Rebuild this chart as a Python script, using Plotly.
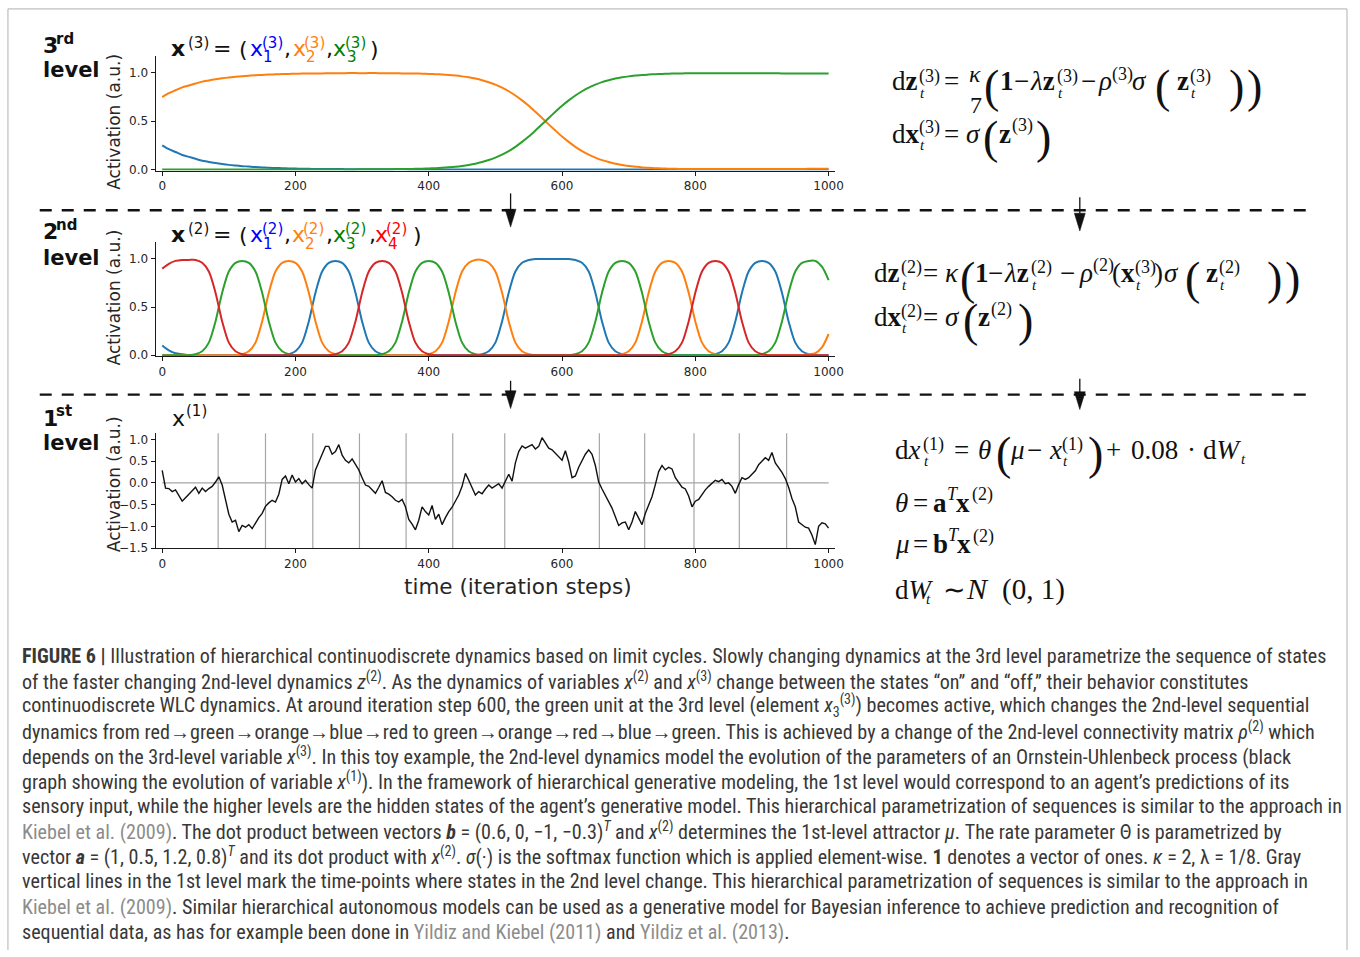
import plotly.graph_objects as go

W, H = 1360, 957


def X(px):
    return px / W


def Y(py):
    return 1 - py / H


# ---------------------------------------------------------------- data
steps_coarse = list(range(0, 1001, 10))
steps_fine = list(range(0, 1001, 5))

level3_blue = [
    0.25, 0.21, 0.18, 0.15, 0.13, 0.11, 0.09, 0.078, 0.066, 0.056,
    0.047, 0.04, 0.034, 0.029, 0.024, 0.021, 0.017, 0.015, 0.012, 0.01,
    0.009, 0.007, 0.006, 0.005, 0.005, 0.004, 0.003, 0.003, 0.002, 0.002,
    0.002, 0.001, 0.001, 0.001, 0.001, 0.001, 0.001, 0, 0, 0,
    0, 0, 0, 0, 0, 0, 0, 0, 0, 0,
    0, 0, 0, 0, 0, 0, 0, 0, 0, 0,
    0, 0, 0, 0, 0, 0, 0, 0, 0, 0,
    0, 0, 0, 0, 0, 0, 0, 0, 0, 0,
    0, 0, 0, 0, 0, 0, 0, 0, 0, 0,
    0, 0, 0, 0, 0, 0, 0, 0, 0, 0,
    0]
level3_orange = [
    0.75, 0.79, 0.82, 0.85, 0.87, 0.89, 0.91, 0.922, 0.934, 0.944,
    0.953, 0.96, 0.966, 0.971, 0.976, 0.979, 0.983, 0.985, 0.988, 0.99,
    0.991, 0.993, 0.994, 0.995, 0.995, 0.996, 0.997, 0.997, 0.998, 0.998,
    0.997, 0.998, 0.998, 0.997, 0.997, 0.996, 0.995, 0.995, 0.994, 0.992,
    0.990, 0.987, 0.983, 0.978, 0.972, 0.964, 0.954, 0.941, 0.924, 0.903,
    0.878, 0.847, 0.81, 0.766, 0.715, 0.659, 0.597, 0.533, 0.467, 0.403,
    0.341, 0.285, 0.234, 0.19, 0.153, 0.122, 0.096, 0.076, 0.059, 0.046,
    0.036, 0.028, 0.021, 0.017, 0.013, 0.01, 0.008, 0.006, 0.005, 0.004,
    0.004, 0.003, 0.003, 0.003, 0.003, 0.003, 0.003, 0.003, 0.003, 0.003,
    0.004, 0.004, 0.004, 0.005, 0.005, 0.005, 0.005, 0.006, 0.006, 0.006,
    0.007]
level3_green = [
    0, 0, 0, 0, 0, 0, 0, 0, 0, 0,
    0, 0, 0, 0, 0, 0, 0, 0, 0, 0,
    0, 0, 0, 0, 0, 0, 0, 0, 0, 0,
    0.001, 0.001, 0.001, 0.002, 0.002, 0.003, 0.004, 0.005, 0.006, 0.008,
    0.010, 0.013, 0.017, 0.022, 0.028, 0.036, 0.046, 0.059, 0.076, 0.097,
    0.122, 0.153, 0.19, 0.234, 0.285, 0.341, 0.403, 0.467, 0.533, 0.597,
    0.659, 0.715, 0.766, 0.81, 0.847, 0.878, 0.904, 0.924, 0.941, 0.954,
    0.964, 0.972, 0.979, 0.983, 0.987, 0.99, 0.992, 0.994, 0.995, 0.996,
    0.996, 0.997, 0.997, 0.997, 0.997, 0.997, 0.997, 0.997, 0.997, 0.997,
    0.996, 0.996, 0.996, 0.995, 0.995, 0.995, 0.995, 0.994, 0.994, 0.994,
    0.993]

level2_blue = [
    0.10, 0.05, 0.02, 0.01, 0, 0, 0, 0, 0, 0,
    0, 0, 0, 0, 0, 0, 0, 0, 0, 0.01,
    0.04, 0.13, 0.35, 0.65, 0.87, 0.96, 0.98, 0.96, 0.87, 0.65,
    0.35, 0.13, 0.04, 0.01, 0, 0, 0, 0, 0, 0,
    0, 0, 0, 0, 0, 0, 0, 0, 0.01, 0.04,
    0.13, 0.35, 0.65, 0.87, 0.96, 0.99, 1.0, 1.0, 1.0, 1.0,
    1.0, 1.0, 0.99, 0.96, 0.87, 0.65, 0.35, 0.13, 0.04, 0.01,
    0, 0, 0, 0, 0, 0, 0, 0, 0, 0,
    0, 0, 0, 0.01, 0.04, 0.13, 0.35, 0.65, 0.87, 0.96,
    0.98, 0.96, 0.87, 0.65, 0.35, 0.13, 0.04, 0.01, 0, 0,
    0]
level2_orange = [
    0, 0, 0, 0, 0, 0, 0, 0, 0, 0,
    0, 0, 0.01, 0.04, 0.13, 0.35, 0.65, 0.87, 0.96, 0.98,
    0.96, 0.87, 0.65, 0.35, 0.13, 0.04, 0.01, 0, 0, 0,
    0, 0, 0, 0, 0, 0, 0, 0, 0, 0,
    0.01, 0.04, 0.13, 0.35, 0.65, 0.87, 0.96, 0.99, 0.99, 0.96,
    0.87, 0.65, 0.35, 0.13, 0.04, 0.01, 0, 0, 0, 0,
    0, 0, 0, 0, 0, 0, 0, 0, 0, 0.01,
    0.04, 0.13, 0.35, 0.65, 0.87, 0.96, 0.98, 0.96, 0.87, 0.65,
    0.35, 0.13, 0.04, 0.01, 0, 0, 0, 0, 0, 0,
    0, 0, 0, 0, 0, 0, 0, 0.01, 0.02, 0.08,
    0.22]
level2_green = [
    0, 0, 0, 0, 0, 0.01, 0.04, 0.13, 0.35, 0.65,
    0.87, 0.96, 0.98, 0.96, 0.87, 0.65, 0.35, 0.13, 0.04, 0.01,
    0, 0, 0, 0, 0, 0, 0, 0, 0, 0,
    0, 0, 0, 0.01, 0.04, 0.13, 0.35, 0.65, 0.87, 0.96,
    0.98, 0.96, 0.87, 0.65, 0.35, 0.13, 0.04, 0.01, 0, 0,
    0, 0, 0, 0, 0, 0, 0, 0, 0, 0,
    0, 0, 0.01, 0.04, 0.13, 0.35, 0.65, 0.87, 0.96, 0.98,
    0.96, 0.87, 0.65, 0.35, 0.13, 0.04, 0.01, 0, 0, 0,
    0, 0, 0, 0, 0, 0, 0, 0, 0, 0,
    0.01, 0.04, 0.13, 0.35, 0.65, 0.87, 0.96, 0.98, 0.98, 0.92,
    0.78]
level2_red = [
    0.90, 0.95, 0.98, 0.99, 0.99, 0.99, 0.96, 0.87, 0.65, 0.35,
    0.13, 0.04, 0.01, 0, 0, 0, 0, 0, 0, 0,
    0, 0, 0, 0, 0, 0, 0.01, 0.04, 0.13, 0.35,
    0.65, 0.87, 0.96, 0.98, 0.96, 0.87, 0.65, 0.35, 0.13, 0.04,
    0.01, 0, 0, 0, 0, 0, 0, 0, 0, 0,
    0, 0, 0, 0, 0, 0, 0, 0, 0, 0,
    0, 0, 0, 0, 0, 0, 0, 0, 0, 0,
    0, 0, 0, 0, 0, 0, 0.01, 0.04, 0.13, 0.35,
    0.65, 0.87, 0.96, 0.98, 0.96, 0.87, 0.65, 0.35, 0.13, 0.04,
    0.01, 0, 0, 0, 0, 0, 0, 0, 0, 0,
    0]

level1_x = [
    0.29, -0.12, -0.13, -0.20, -0.16, -0.30, -0.42, -0.34, -0.25, -0.18,
    -0.10, -0.24, -0.12, -0.20, -0.13, -0.08, 0.02, 0.14, -0.05, -0.42,
    -0.72, -0.90, -0.86, -1.12, -0.98, -1.02, -0.96, -1.05, -0.92, -0.80,
    -0.70, -0.54, -0.46, -0.40, -0.44, -0.26, 0.08, 0.16, -0.02, 0.18,
    0.02, 0.10, -0.02, 0.06, -0.04, -0.12, 0.30, 0.46, 0.66, 0.84,
    0.84, 0.66, 0.72, 0.88, 0.64, 0.52, 0.46, 0.55, 0.42, 0.30,
    0.12, -0.05, -0.08, -0.15, -0.24, -0.10, 0.05, -0.22, -0.26, -0.32,
    -0.40, -0.44, -0.38, -0.55, -0.84, -0.95, -1.08, -0.86, -0.55, -0.66,
    -0.74, -0.52, -0.84, -0.72, -0.96, -0.80, -0.66, -0.56, -0.42, -0.28,
    -0.08, 0.22, 0.06, -0.10, -0.28, -0.20, -0.25, -0.14, -0.05, -0.12,
    -0.06, -0.02, -0.12, 0.05, 0.20, 0.04, 0.46, 0.72, 0.85, 0.80,
    0.84, 0.88, 0.78, 0.84, 1.04, 0.92, 0.80, 0.76, 0.68, 0.58,
    0.52, 0.74, 0.48, 0.12, 0.16, 0.36, 0.52, 0.66, 0.76, 0.66,
    0.40, 0.02, -0.14, -0.28, -0.44, -0.58, -0.78, -0.98, -0.92, -0.90,
    -1.08, -0.90, -0.66, -0.80, -0.96, -0.70, -0.50, -0.32, -0.04, 0.26,
    0.40, 0.30, 0.36, 0.32, 0.12, 0.02, -0.10, -0.14, -0.30, -0.55,
    -0.42, -0.38, -0.26, -0.16, -0.08, -0.02, 0.06, 0.03, 0.08, -0.02,
    0.0, -0.08, -0.24, -0.04, 0.12, 0.08, 0.12, 0.20, 0.28, 0.42,
    0.50, 0.58, 0.52, 0.70, 0.46, 0.36, 0.24, 0.10, -0.10, -0.36,
    -0.55, -0.90, -0.96, -1.02, -1.04, -1.20, -1.42, -1.00, -0.92, -0.94,
    -1.04]

state_change_steps = [84, 155, 226, 296, 366, 436, 514, 656, 724, 798, 866, 937]

x_ticks = [0, 200, 400, 600, 800, 1000]
y_ticks_upper = [0.0, 0.5, 1.0]
y_ticks_lower = [-1.5, -1.0, -0.5, 0.0, 0.5, 1.0]

C_BLUE, C_ORANGE, C_GREEN, C_RED = "#1f77b4", "#ff7f0e", "#2ca02c", "#d62728"

# ---------------------------------------------------------------- figure
fig = go.Figure()

LW = 2.0
for vals, col in [(level3_blue, C_BLUE), (level3_orange, C_ORANGE), (level3_green, C_GREEN)]:
    fig.add_trace(go.Scatter(x=steps_coarse, y=vals, mode="lines", xaxis="x", yaxis="y",
                             line=dict(color=col, width=LW, shape="spline", smoothing=0.8),
                             showlegend=False, hoverinfo="skip"))
for vals, col in [(level2_blue, C_BLUE), (level2_orange, C_ORANGE), (level2_green, C_GREEN),
                  (level2_red, C_RED)]:
    fig.add_trace(go.Scatter(x=steps_coarse, y=vals, mode="lines", xaxis="x2", yaxis="y2",
                             line=dict(color=col, width=LW, shape="spline", smoothing=0.8),
                             showlegend=False, hoverinfo="skip"))
fig.add_trace(go.Scatter(x=steps_fine, y=level1_x, mode="lines", xaxis="x3", yaxis="y3",
                         line=dict(color="#111111", width=1.4),
                         showlegend=False, hoverinfo="skip"))

axis_common = dict(showline=True, linecolor="#1a1a1a", linewidth=1.3, ticks="outside",
                   ticklen=4, tickwidth=1.1, tickcolor="#1a1a1a", showgrid=False,
                   zeroline=False, fixedrange=True,
                   tickfont=dict(family="DejaVu Sans", size=12, color="#262626"))

XDOM = [X(156.7), X(840.5)]
XRANGE = [-9.8, 1009.5]


def fmt(v):
    return f"{v:.1f}".replace("-", "\u2212")


layout_axes = {}
for i, (top, bot, yr, yt) in enumerate([
        (55, 171, [-0.012, 1.18], y_ticks_upper),
        (242.7, 358.3, [-0.012, 1.18], y_ticks_upper),
        (436, 551.7, [-1.5, 1.14], y_ticks_lower)]):
    sfx = "" if i == 0 else str(i + 1)
    layout_axes["xaxis" + sfx] = dict(axis_common, domain=XDOM, range=XRANGE,
                                      anchor="y" + sfx, tickvals=x_ticks,
                                      ticktext=[str(v) for v in x_ticks])
    layout_axes["yaxis" + sfx] = dict(axis_common, domain=[Y(bot), Y(top)], range=yr,
                                      anchor="x" + sfx, tickvals=yt,
                                      ticktext=[fmt(v) for v in yt])

shapes = []
for s in state_change_steps:
    shapes.append(dict(type="line", xref="x3", yref="y3 domain", x0=s, x1=s, y0=0, y1=1,
                       line=dict(color="#a6a6a6", width=1.2), layer="below"))
shapes.append(dict(type="line", xref="x3", yref="y3", x0=0, x1=1000, y0=0, y1=0,
                   line=dict(color="#a6a6a6", width=1.2), layer="below"))

for yy in (211, 397):
    shapes.append(dict(type="line", xref="paper", yref="paper", x0=X(40), x1=X(1318),
                       y0=Y(yy), y1=Y(yy), line=dict(color="#111", width=2.3, dash="12px,10px")))

for ax_, top, tip in [(514, 194, 228), (1087, 198, 232), (514, 383, 411), (1087, 381, 412)]:
    shapes.append(dict(type="line", xref="paper", yref="paper", x0=X(ax_), x1=X(ax_),
                       y0=Y(top), y1=Y(tip - 10), line=dict(color="#111", width=1.3)))
    shapes.append(dict(type="path", xref="paper", yref="paper",
                       path=f"M {X(ax_ - 5.5)},{Y(tip - 18)} L {X(ax_ + 5.5)},{Y(tip - 18)} "
                            f"L {X(ax_)},{Y(tip)} Z",
                       fillcolor="#111", line=dict(color="#111", width=0.5)))

for (x0, y0, x1, y1) in [(8, 8, 8, 957), (8, 8, 1356, 8), (1356, 8, 1356, 957)]:
    shapes.append(dict(type="line", xref="paper", yref="paper", x0=X(x0), x1=X(x1),
                       y0=Y(y0), y1=Y(y1), line=dict(color="#b0b0b0", width=1)))

annotations = []


def txt(x, baseline, text, size, color="#111", family="DejaVu Sans", k=0.34):
    annotations.append(dict(x=X(x), y=Y(baseline - k * size), xref="paper", yref="paper",
                            xanchor="left", yanchor="middle", text=text, showarrow=False,
                            borderpad=0, align="left",
                            font=dict(family=family, size=size, color=color)))


for base1, base2, num, sup in [(52, 77, "3", "rd"), (240, 266, "2", "nd"), (428, 453, "1", "st")]:
    txt(42, base1, f"<b>{num}</b>", 22)
    txt(55, base1 - 9, f"<b>{sup}</b>", 15)
    txt(42, base2, "<b>level</b>", 21)

for yc in (121.5, 298.7, 487):
    annotations.append(dict(x=X(115), y=Y(yc), xref="paper", yref="paper", textangle=-90,
                            xanchor="center", yanchor="middle", text="Activation (a.u.)",
                            showarrow=False, font=dict(family="DejaVu Sans", size=17,
                                                       color="#262626")))
annotations.append(dict(x=X(521.5), y=Y(590), xref="paper", yref="paper", xanchor="center",
                        yanchor="middle", text="time (iteration steps)", showarrow=False,
                        font=dict(family="DejaVu Sans", size=21.5, color="#262626")))


def panel_title(base, lvl, comps):
    txt(171, base, "<b>x</b>", 22)
    txt(188.5, base - 8, f"({lvl})", 15)
    txt(213, base, "=", 22)
    txt(240, base + 1, "(", 22)
    for (x0, col, idx, comma_x) in comps:
        txt(x0, base, "x", 22, col)
        txt(x0 + 12, base - 8, f"({lvl})", 15, col)
        txt(x0 + 13.5, base + 7, idx, 15, col)
        if comma_x is not None:
            txt(comma_x, base, ",", 22)


panel_title(55, 3, [(250.5, "blue", "1", 284.5), (293.5, C_ORANGE, "2", 327),
                    (334.5, "green", "3", None)])
txt(371, 56, ")", 22)
panel_title(243.3, 2, [(250.5, "blue", "1", 284.5), (292.5, C_ORANGE, "2", 327),
                       (334, "green", "3", 370), (376, "red", "4", None)])
txt(415, 244.3, ")", 22)
txt(172, 428, "x", 22)
txt(186, 419, "(1)", 15)

SER = "Liberation Serif"
DX = 4


def eq(base, tokens):
    for x0, dy, text, size in tokens:
        txt(x0 + DX, base + dy, text, size, "#111", SER)


M, S, T_, P = 27, 18, 15, 46
eq(90, [
    (893, 0, "d<b>z</b>", M), (920, -8, "(3)", S), (921, 8, "<i>t</i>", T_),
    (945, 0, "=", M), (970, -8, "<i>κ</i>", 24), (971, 23, "7", 24),
    (986, 12, "(", P), (1002, 0, "<b>1</b>", M), (1016, 0, "−", M),
    (1032, 0, "<i>λ</i><b>z</b>", M), (1059, -8, "(3)", S), (1060, 8, "<i>t</i>", T_),
    (1083, 0, "−", M), (1100, 0, "<i>ρ</i>", M), (1114, -10, "(3)", S),
    (1135, 0, "<i>σ</i>", M), (1158, 12, "(", P), (1180, 0, "<b>z</b>", M),
    (1193, -8, "(3)", S), (1194, 8, "<i>t</i>", T_), (1232, 12, ")", P),
    (1250, 12, ")", P)])
eq(143, [
    (893, 0, "d<b>x</b>", M), (920, -9, "(3)", S), (921, 7, "<i>t</i>", T_),
    (945, 0, "=", M), (967, 0, "<i>σ</i>", M), (985, 10, "(", P),
    (1001, 0, "<b>z</b>", M), (1014, -11, "(3)", S), (1038, 10, ")", P)])
eq(283, [
    (875, 0, "d<b>z</b>", M), (902, -8, "(2)", S), (903, 8, "<i>t</i>", T_),
    (924, 0, "=", M), (946, 0, "<i>κ</i>", M), (961, 12, "(", P),
    (976, 0, "<b>1</b>", M), (990, 0, "−", M), (1006, 0, "<i>λ</i><b>z</b>", M),
    (1033, -8, "(2)", S), (1034, 8, "<i>t</i>", T_), (1062, 0, "−", M),
    (1081, 0, "<i>ρ</i>", M), (1095, -10, "(2)", S), (1114, 0, "(<b>x</b>", M),
    (1138, -8, "(3)", S), (1139, 8, "<i>t</i>", T_), (1157, 0, ")", M),
    (1167, 0, "<i>σ</i>", M), (1188, 12, "(", P), (1209, 0, "<b>z</b>", M),
    (1222, -8, "(2)", S), (1223, 8, "<i>t</i>", T_), (1270, 12, ")", P),
    (1289, 12, ")", P)])
eq(328, [
    (875, 0, "d<b>x</b>", M), (902, -9, "(2)", S), (903, 7, "<i>t</i>", T_),
    (924, 0, "=", M), (946, 0, "<i>σ</i>", M), (964, 10, "(", P),
    (980, 0, "<b>z</b>", M), (993, -11, "(2)", S), (1020, 10, ")", P)])
eq(462, [
    (896, 0, "d<i>x</i>", M), (924, -9, "(1)", S), (925, 7, "<i>t</i>", T_),
    (955, 0, "=", M), (980, 0, "<i>θ</i>", M), (998, 10, "(", P),
    (1012, 0, "<i>μ</i>", M), (1029, 0, "−", M), (1051, 0, "<i>x</i>", M),
    (1064, -9, "(1)", S), (1065, 7, "<i>t</i>", T_), (1090, 10, ")", P),
    (1108, 0, "+", M), (1134, 0, "0.08", M), (1190, 0, "·", M),
    (1206, 0, "d<i>W</i>", M), (1244, 5, "<i>t</i>", T_)])
eq(515, [
    (896, 0, "<i>θ</i>", M), (914, 0, "=", M), (934, 0, "<b>a</b>", M),
    (948, -12, "<i>T</i>", S), (957, 0, "<b>x</b>", M), (973, -11, "(2)", S)])
eq(557, [
    (896, 0, "<i>μ</i>", M), (914, 0, "=", M), (934, 0, "<b>b</b>", M),
    (949, -12, "<i>T</i>", S), (958, 0, "<b>x</b>", M), (974, -11, "(2)", S)])
eq(603, [
    (896, 0, "d<i>W</i>", M), (927, 5, "<i>t</i>", T_), (944, 0, "∼", M),
    (967, 0, "<i>N</i>", 30), (1004, 0, "(0, 1)", 29)])

LINK = "color:#8c8c8c"
XV = "<i>x</i>"
caption_lines = [
    "<b>FIGURE 6 |</b> Illustration of hierarchical continuodiscrete dynamics based on limit cycles. "
    "Slowly changing dynamics at the 3rd level parametrize the sequence of states",
    "of the faster changing 2nd-level dynamics <i>z</i><sup>(2)</sup>. As the dynamics of variables "
    f"{XV}<sup>(2)</sup> and {XV}<sup>(3)</sup> change between the states “on” and “off,” "
    "their behavior constitutes",
    "continuodiscrete WLC dynamics. At around iteration step 600, the green unit at the 3rd level "
    f"(element {XV}<sub>3</sub><sup>(3)</sup>) becomes active, which changes the 2nd-level sequential",
    "dynamics from red→green→orange→blue→red to green→orange→red→blue→green. This is achieved by a "
    "change of the 2nd-level connectivity matrix <i>ρ</i><sup>(2)</sup> which",
    f"depends on the 3rd-level variable {XV}<sup>(3)</sup>. In this toy example, the 2nd-level "
    "dynamics model the evolution of the parameters of an Ornstein-Uhlenbeck process (black",
    "graph showing the evolution of variable <i>x</i><sup>(1)</sup>). In the framework of hierarchical "
    "generative modeling, the 1st level would correspond to an agent’s predictions of its",
    "sensory input, while the higher levels are the hidden states of the agent’s generative model. "
    "This hierarchical parametrization of sequences is similar to the approach in",
    f"<span style='{LINK}'>Kiebel et al. (2009)</span>. The dot product between vectors "
    f"<b><i>b</i></b> = (0.6, 0, −1, −0.3)<sup><i>T</i></sup> and {XV}<sup>(2)</sup> determines "
    "the 1st-level attractor <i>μ</i>. The rate parameter Θ is parametrized by",
    "vector <b><i>a</i></b> = (1, 0.5, 1.2, 0.8)<sup><i>T</i></sup> and its dot product with "
    f"{XV}<sup>(2)</sup>. <i>σ</i>(·) is the softmax function which is applied element-wise. "
    "<b>1</b> denotes a vector of ones. <i>κ</i> = 2, λ = 1/8. Gray",
    "vertical lines in the 1st level mark the time-points where states in the 2nd level change. "
    "This hierarchical parametrization of sequences is similar to the approach in",
    f"<span style='{LINK}'>Kiebel et al. (2009)</span>. Similar hierarchical autonomous models can be "
    "used as a generative model for Bayesian inference to achieve prediction and recognition of",
    f"sequential data, as has for example been done in <span style='{LINK}'>Yildiz and Kiebel "
    f"(2011)</span> and <span style='{LINK}'>Yildiz et al. (2013)</span>.",
]
CAP_FONT = "Liberation Sans Narrow, Roboto Condensed, Arial Narrow, Roboto"
for i, line in enumerate(caption_lines):
    txt(21, 667 + 25.3 * i, line, 20.1, "#383838", CAP_FONT)

fig.update_layout(
    width=W, height=H, margin=dict(l=0, r=0, t=0, b=0),
    paper_bgcolor="white", plot_bgcolor="white",
    showlegend=False, shapes=shapes, annotations=annotations,
    **layout_axes)

fig.write_html("out.html")
